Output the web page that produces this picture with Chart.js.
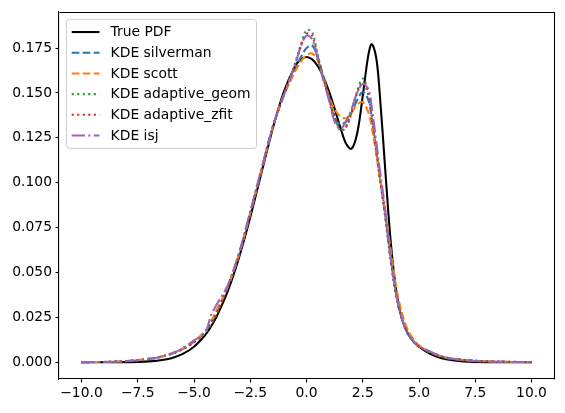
<!DOCTYPE html>
<html>
<head>
<meta charset="utf-8">
<script src="https://cdn.jsdelivr.net/npm/chart.js@4.4.1/dist/chart.umd.min.js"></script>
<style>
html,body{margin:0;padding:0;background:#fff;}
#wrap{width:565px;height:413px;}
</style>
</head>
<body>
<div id="wrap"><canvas id="c" width="565" height="413"></canvas></div>
<script>
// ---- data ----
const xValues = [-10,-9,-8,-7,-6.5,-6,-5.5,-5,-4.5,-4.25,-4,-3.5,-3,-2.5,-2,-1.5,-1,-0.5,-0.25,0,0.25,0.5,0.75,1,1.25,1.5,1.75,2,2.25,2.5,2.75,2.9,3.1,3.25,3.5,3.75,4,4.25,4.5,4.75,5,5.5,6,6.5,7,8,9,10];

const truePdf = [0.0000,0.0000,0.0001,0.0005,0.0011,0.0023,0.0047,0.0087,0.0153,0.0198,0.0253,0.0396,0.0583,0.0808,0.1056,0.1301,0.1509,0.1650,0.1687,0.1700,0.1687,0.1650,0.1590,0.1509,0.1413,0.1310,0.1220,0.1189,0.1274,0.1484,0.1712,0.1772,0.1695,0.1505,0.1072,0.0662,0.0386,0.0237,0.0162,0.0118,0.0087,0.0047,0.0023,0.0011,0.0005,0.0001,0.0000,0.0000];

const kdeSilverman = [0.0001,0.0002,0.0007,0.0019,0.0030,0.0048,0.0075,0.0115,0.0170,0.0220,0.0280,0.0420,0.0600,0.0830,0.1070,0.1310,0.1490,0.1630,0.1700,0.1750,0.1765,0.1700,0.1590,0.1470,0.1360,0.1325,0.1340,0.1390,0.1460,0.1505,0.1460,0.1360,0.1180,0.1040,0.0820,0.0570,0.0370,0.0240,0.0160,0.0115,0.0088,0.0055,0.0030,0.0018,0.0012,0.0005,0.0002,0.0001];

const kdeScott = [0.0001,0.0002,0.0007,0.0020,0.0032,0.0050,0.0078,0.0118,0.0175,0.0225,0.0290,0.0420,0.0600,0.0830,0.1070,0.1310,0.1490,0.1620,0.1675,0.1710,0.1720,0.1680,0.1590,0.1480,0.1410,0.1370,0.1360,0.1390,0.1435,0.1450,0.1390,0.1310,0.1160,0.1040,0.0840,0.0620,0.0410,0.0270,0.0180,0.0130,0.0095,0.0058,0.0033,0.0020,0.0013,0.0005,0.0002,0.0001];

const kdeAdaptiveGeom = [0.0001,0.0002,0.0007,0.0019,0.0030,0.0047,0.0073,0.0110,0.0165,0.0210,0.0270,0.0420,0.0600,0.0830,0.1070,0.1310,0.1490,0.1670,0.1770,0.1850,0.1840,0.1710,0.1590,0.1470,0.1370,0.1290,0.1310,0.1400,0.1510,0.1580,0.1500,0.1380,0.1190,0.1040,0.0810,0.0560,0.0360,0.0240,0.0160,0.0115,0.0088,0.0055,0.0032,0.0020,0.0013,0.0006,0.0003,0.0001];

const kdeAdaptiveZfit = [0.0001,0.0002,0.0007,0.0019,0.0030,0.0047,0.0074,0.0112,0.0170,0.0220,0.0270,0.0420,0.0600,0.0830,0.1070,0.1310,0.1490,0.1660,0.1760,0.1830,0.1820,0.1700,0.1580,0.1470,0.1370,0.1300,0.1310,0.1390,0.1500,0.1560,0.1490,0.1370,0.1180,0.1030,0.0810,0.0560,0.0360,0.0240,0.0160,0.0115,0.0088,0.0055,0.0032,0.0020,0.0013,0.0006,0.0003,0.0001];

const kdeIsj = [0.0001,0.0002,0.0006,0.0018,0.0030,0.0048,0.0078,0.0122,0.0165,0.0260,0.0320,0.0430,0.0610,0.0840,0.1080,0.1310,0.1490,0.1660,0.1760,0.1820,0.1800,0.1690,0.1570,0.1460,0.1340,0.1300,0.1340,0.1410,0.1500,0.1550,0.1520,0.1420,0.1230,0.1080,0.0850,0.0580,0.0370,0.0240,0.0160,0.0118,0.0090,0.0060,0.0035,0.0020,0.0012,0.0005,0.0002,0.0001];

const seriesLabels = ['True PDF','KDE silverman','KDE scott','KDE adaptive_geom','KDE adaptive_zfit','KDE isj'];

const xTicks = [-10,-7.5,-5,-2.5,0,2.5,5,7.5,10];
const xTickLabels = ['\u221210.0','\u22127.5','\u22125.0','\u22122.5','0.0','2.5','5.0','7.5','10.0'];
const yTicks = [0,0.025,0.05,0.075,0.1,0.125,0.15,0.175];
const yTickLabels = ['0.000','0.025','0.050','0.075','0.100','0.125','0.150','0.175'];

// ---- chart ----
const FONT = {family: "'DejaVu Sans', sans-serif", size: 13.89};
const LW = 2.08;
const seriesValues = [truePdf, kdeSilverman, kdeScott, kdeAdaptiveGeom, kdeAdaptiveZfit, kdeIsj];
const styles = [
  {color:'#000000', dash:[]},
  {color:'#1f77b4', dash:[7.7,3.3]},
  {color:'#ff7f0e', dash:[7.7,3.3]},
  {color:'#2ca02c', dash:[2.08,3.44]},
  {color:'#d62728', dash:[2.08,3.44]},
  {color:'#9467bd', dash:[13.3,3.3,2.08,3.3]}
];

const datasets = seriesValues.map((vals, i) => ({
  label: seriesLabels[i],
  data: xValues.map((x, j) => ({x: x, y: vals[j]})),
  borderColor: styles[i].color,
  backgroundColor: styles[i].color,
  borderDash: styles[i].dash,
  borderWidth: LW,
  borderCapStyle: 'butt',
  pointRadius: 0,
  tension: 0.35,
  fill: false,
  order: seriesValues.length - i
}));

const framePlugin = {
  id: 'frame',
  afterDatasetsDraw(chart) {
    const {ctx, chartArea: a} = chart;
    ctx.save();
    ctx.strokeStyle = '#000';
    ctx.lineWidth = 1.1;
    ctx.beginPath();
    ctx.moveTo(Math.round(a.left) + 0.5, Math.round(a.top) + 0.5);
    ctx.lineTo(Math.round(a.right) + 0.5, Math.round(a.top) + 0.5);
    ctx.lineTo(Math.round(a.right) + 0.5, Math.round(a.bottom) + 0.5);
    ctx.stroke();
    ctx.restore();
  }
};

const legendPlugin = {
  id: 'mplLegend',
  afterDraw(chart) {
    const {ctx, chartArea: a} = chart;
    const x0 = a.left + 7.5, y0 = a.top + 7.5;
    const w = 190, h = 129;
    ctx.save();
    const r = 3;
    ctx.beginPath();
    ctx.moveTo(x0 + r, y0);
    ctx.lineTo(x0 + w - r, y0);
    ctx.arcTo(x0 + w, y0, x0 + w, y0 + r, r);
    ctx.lineTo(x0 + w, y0 + h - r);
    ctx.arcTo(x0 + w, y0 + h, x0 + w - r, y0 + h, r);
    ctx.lineTo(x0 + r, y0 + h);
    ctx.arcTo(x0, y0 + h, x0, y0 + h - r, r);
    ctx.lineTo(x0, y0 + r);
    ctx.arcTo(x0, y0, x0 + r, y0, r);
    ctx.closePath();
    ctx.fillStyle = 'rgba(255,255,255,0.8)';
    ctx.fill();
    ctx.strokeStyle = '#cccccc';
    ctx.lineWidth = 1;
    ctx.stroke();
    ctx.font = `${FONT.size}px ${FONT.family}`;
    ctx.textBaseline = 'middle';
    ctx.textAlign = 'left';
    chart.data.datasets.forEach((ds, i) => {
      const cy = y0 + 12.7 + i * 20.7;
      const lx = x0 + 5.2;
      ctx.beginPath();
      ctx.setLineDash(ds.borderDash || []);
      ctx.lineCap = 'butt';
      ctx.strokeStyle = ds.borderColor;
      ctx.lineWidth = ds.borderWidth;
      ctx.moveTo(lx, cy);
      ctx.lineTo(lx + 27.8, cy);
      ctx.stroke();
      ctx.setLineDash([]);
      ctx.fillStyle = '#000';
      ctx.fillText(ds.label, lx + 27.8 + 11.1, cy + 0.5);
    });
    ctx.restore();
  }
};

new Chart(document.getElementById('c'), {
  type: 'line',
  data: {datasets},
  plugins: [framePlugin, legendPlugin],
  options: {
    responsive: false,
    animation: false,
    devicePixelRatio: 1,
    layout: {padding: {top: 10, right: 11, left: 0, bottom: 0}},
    plugins: {legend: {display: false}, tooltip: {enabled: false}},
    scales: {
      x: {
        type: 'linear',
        min: -11, max: 11,
        afterBuildTicks: s => { s.ticks = xTicks.map(v => ({value: v})); },
        afterFit: s => { s.height = 34; },
        ticks: {
          callback: (v, i) => xTickLabels[i],
          font: FONT, color: '#000', padding: 3, maxRotation: 0, autoSkip: false
        },
        grid: {drawOnChartArea: false, tickLength: 3.5, color: '#000', tickWidth: 1.1},
        border: {display: true, color: '#000', width: 1.1}
      },
      y: {
        type: 'linear',
        min: -0.0093, max: 0.1952,
        afterBuildTicks: s => { s.ticks = yTicks.map(v => ({value: v})); },
        afterFit: s => { s.width = 59; },
        ticks: {
          callback: (v, i) => yTickLabels[i],
          font: FONT, color: '#000', padding: 3.5, autoSkip: false
        },
        grid: {drawOnChartArea: false, tickLength: 3.5, color: '#000', tickWidth: 1.1},
        border: {display: true, color: '#000', width: 1.1}
      }
    }
  }
});
</script>
</body>
</html>
